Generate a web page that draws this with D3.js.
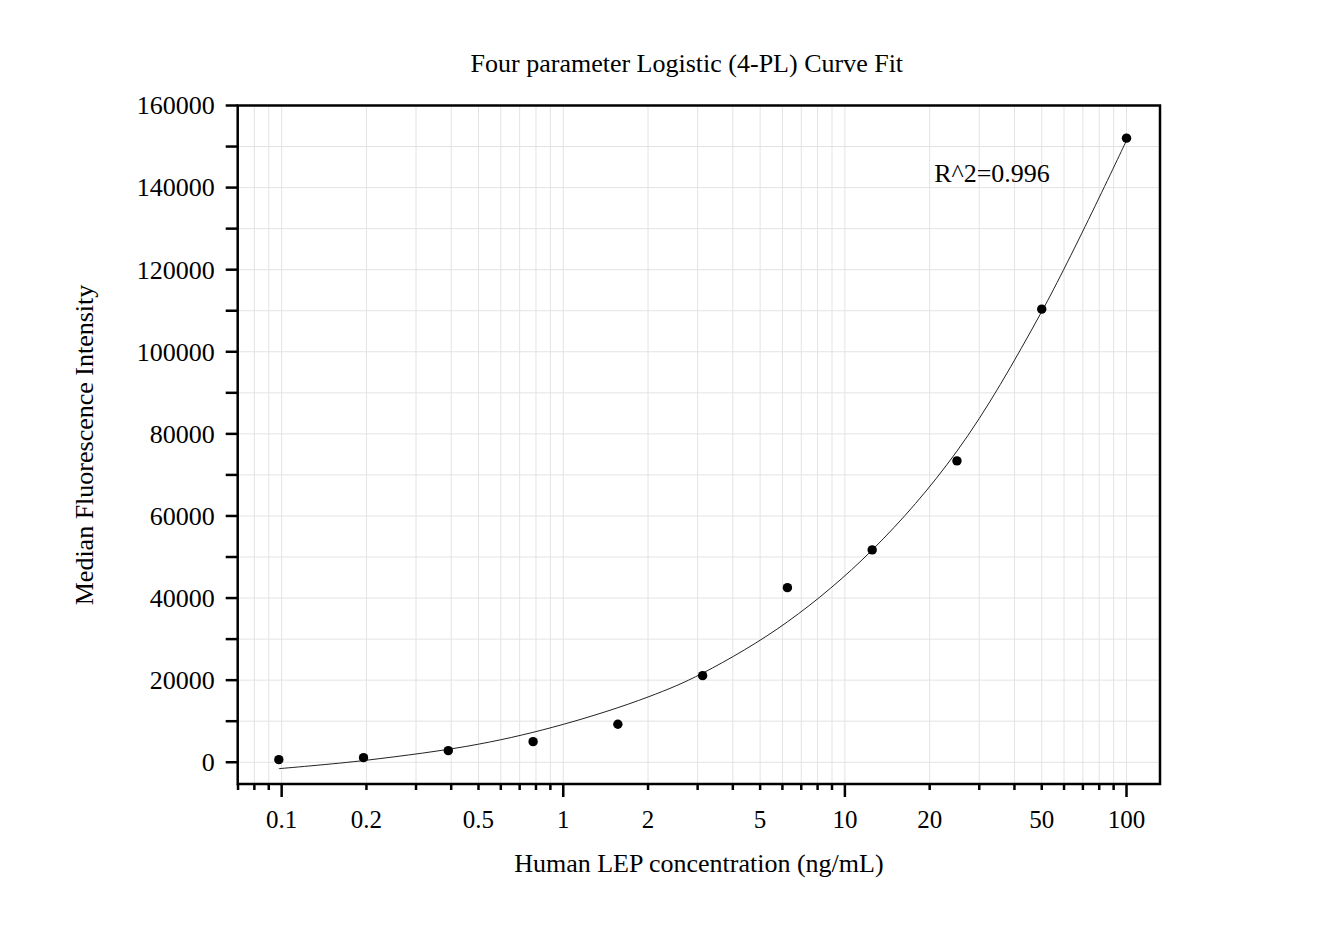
<!DOCTYPE html>
<html lang="en">
  <head>
    <meta charset="UTF-8" />
    <title>Four parameter Logistic (4-PL) Curve Fit</title>
    <script src="https://d3js.org/d3.v7.min.js"></script>
    <style>
      body { margin: 0; background: #fff; }
      svg text { font-family: "Liberation Serif", "Times New Roman", serif; fill: #000; }
    </style>
  </head>
  <body>
    <svg></svg>
    <script>
      var width = 1343;
      var height = 935;
      var margin = { top: 105.5, right: 183, bottom: 151, left: 237.7 };

      // standards (ng/mL) and measured MFI
      var conc = [0.0977, 0.1953, 0.3906, 0.7813, 1.5625, 3.125, 6.25, 12.5, 25, 50, 100];
      var mfi = [630, 1120, 2830, 5020, 9260, 21100, 42540, 51730, 73420, 110380, 152050];

      // fitted curve
      var fitX = [0.0977, 0.2, 0.5, 1, 2, 3.125, 6.25, 12.5, 25, 50, 100];
      var fitY = [-1560, 490, 4400, 9230, 15900, 21700, 34200, 51700, 75800, 109800, 151500];

      var xLabels = [0.1, 0.2, 0.5, 1, 2, 5, 10, 20, 50, 100];
      var xMajor = [0.1, 1, 10, 100];
      var yTicks = [0, 20000, 40000, 60000, 80000, 100000, 120000, 140000, 160000];

      var innerW = width - margin.left - margin.right;
      var innerH = height - margin.top - margin.bottom;

      var svg = d3.select("svg").attr("width", width).attr("height", height);

      var x = d3.scaleLog().domain([0.06981, 131.5]).range([0, innerW]);
      var y = d3.scaleLinear().domain([-5300, 160000]).range([innerH, 0]);

      var g = svg.append("g")
        .attr("transform", `translate(${margin.left}, ${margin.top})`);

      // grid
      var minorX = x.ticks();
      var minorY = d3.range(0, 160001, 10000);

      g.append("g")
        .selectAll("line")
        .data(minorX)
        .join("line")
        .attr("x1", (d) => x(d))
        .attr("x2", (d) => x(d))
        .attr("y1", 0)
        .attr("y2", innerH)
        .style("stroke", "#e3e3e3")
        .style("stroke-width", 1);

      g.append("g")
        .selectAll("line")
        .data(minorY)
        .join("line")
        .attr("x1", 0)
        .attr("x2", innerW)
        .attr("y1", (d) => y(d))
        .attr("y2", (d) => y(d))
        .style("stroke", "#e3e3e3")
        .style("stroke-width", 1);

      // x axis ticks
      var xAxis = g.append("g").attr("transform", `translate(0, ${innerH})`);
      xAxis.selectAll("line")
        .data(minorX)
        .join("line")
        .attr("x1", (d) => x(d))
        .attr("x2", (d) => x(d))
        .attr("y1", 0)
        .attr("y2", (d) => (xMajor.indexOf(d) >= 0 ? 13 : 6))
        .style("stroke", "#000")
        .style("stroke-width", 2.5);
      xAxis.selectAll("text")
        .data(xLabels)
        .join("text")
        .attr("x", (d) => x(d))
        .attr("y", 44)
        .attr("text-anchor", "middle")
        .style("font-size", "25px")
        .text((d) => d);

      // y axis ticks
      var yAxis = g.append("g");
      yAxis.selectAll("line")
        .data(minorY)
        .join("line")
        .attr("x1", -12)
        .attr("x2", 0)
        .attr("y1", (d) => y(d))
        .attr("y2", (d) => y(d))
        .style("stroke", "#000")
        .style("stroke-width", 2.5);
      yAxis.selectAll("text")
        .data(yTicks)
        .join("text")
        .attr("x", -23)
        .attr("y", (d) => y(d))
        .attr("dy", "0.34em")
        .attr("text-anchor", "end")
        .style("font-size", "26px")
        .text((d) => d);

      // frame
      g.append("rect")
        .attr("width", innerW)
        .attr("height", innerH)
        .style("fill", "none")
        .style("stroke", "#000")
        .style("stroke-width", 2.5);

      // fitted curve
      var line = d3.line()
        .x((d, i) => x(d))
        .y((d, i) => y(fitY[i]))
        .curve(d3.curveCatmullRom.alpha(0.5));

      g.append("path")
        .datum(fitX)
        .attr("d", line)
        .style("fill", "none")
        .style("stroke", "#222")
        .style("stroke-width", 1);

      // standards
      g.append("g")
        .selectAll("circle")
        .data(conc)
        .join("circle")
        .attr("cx", (d) => x(d))
        .attr("cy", (d, i) => y(mfi[i]))
        .attr("r", 4.7)
        .style("fill", "#000");

      g.append("text")
        .attr("x", x(12.5) + 62)
        .attr("y", y(140000) - 6)
        .style("font-size", "26px")
        .text("R^2=0.996");

      // titles
      svg.append("text")
        .attr("x", margin.left + innerW / 2 - 12)
        .attr("y", 72)
        .attr("text-anchor", "middle")
        .style("font-size", "26px")
        .text("Four parameter Logistic (4-PL) Curve Fit");

      svg.append("text")
        .attr("x", margin.left + innerW / 2)
        .attr("y", 872)
        .attr("text-anchor", "middle")
        .style("font-size", "26px")
        .text("Human LEP concentration (ng/mL)");

      svg.append("text")
        .attr("transform", "translate(93, 445) rotate(-90)")
        .attr("text-anchor", "middle")
        .style("font-size", "26px")
        .text("Median Fluorescence Intensity");
    </script>
  </body>
</html>
